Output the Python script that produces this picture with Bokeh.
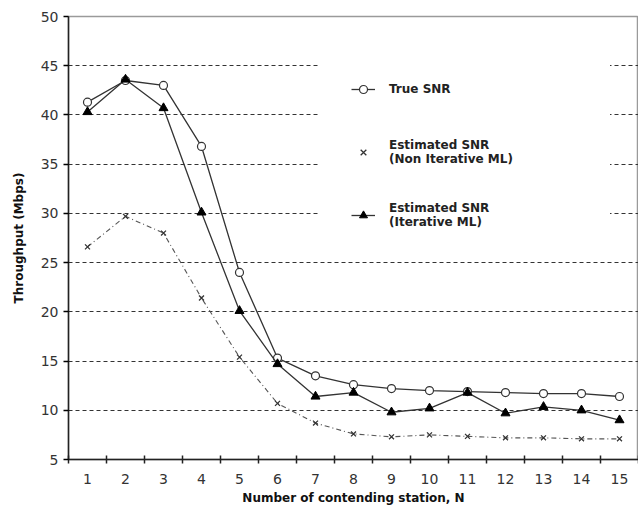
from bokeh.plotting import figure
from bokeh.models import Range1d, FixedTicker, Legend, LegendItem
from bokeh.embed import file_html
from bokeh.resources import INLINE

stations = list(range(1, 16))
true_snr = [41.3, 43.5, 43.0, 36.8, 24.0, 15.3, 13.5, 12.6, 12.2, 12.0, 11.9, 11.8, 11.7, 11.7, 11.4]
est_non_iter = [26.6, 29.7, 28.0, 21.4, 15.4, 10.7, 8.7, 7.6, 7.3, 7.5, 7.35, 7.2, 7.2, 7.1, 7.1]
est_iter = [40.3, 43.6, 40.7, 30.1, 20.1, 14.7, 11.4, 11.8, 9.8, 10.2, 11.8, 9.7, 10.35, 10.0, 9.0]
y_ticks = [5, 10, 15, 20, 25, 30, 35, 40, 45, 50]

FONT = "DejaVu Sans"

p = figure(width=638, height=507, output_backend="svg", toolbar_location=None,
           x_range=Range1d(0.5, 15.5), y_range=Range1d(5, 50),
           min_border_left=68, min_border_right=0, min_border_top=16, min_border_bottom=10)

p.outline_line_color = "#9a9a9a"
p.outline_line_width = 1.5
p.background_fill_color = "white"

# axes
p.xaxis.ticker = FixedTicker(ticks=stations, minor_ticks=[i + 0.5 for i in range(0, 16)])
p.xaxis.major_tick_line_color = None
p.xaxis.minor_tick_in = 4
p.xaxis.minor_tick_out = 4
p.xaxis.minor_tick_line_color = "#222222"
p.xaxis.minor_tick_line_width = 1.5
p.yaxis.ticker = FixedTicker(ticks=y_ticks, minor_ticks=[])
p.yaxis.major_tick_in = 0
p.yaxis.major_tick_out = 5
p.yaxis.major_tick_line_width = 1.5
for ax in (p.xaxis, p.yaxis):
    ax.axis_line_color = "#222222"
    ax.axis_line_width = 1.5
    ax.major_label_text_font = FONT
    ax.major_label_text_font_size = "14px"
    ax.major_label_text_color = "#333333"
    ax.axis_label_text_font = FONT
    ax.axis_label_text_font_size = "12px"
    ax.axis_label_text_font_style = "bold"
    ax.axis_label_text_color = "#111111"
p.xaxis.major_label_standoff = 8
p.xaxis.axis_label = "Number of contending station, N"
p.xaxis.axis_label_standoff = 4
p.yaxis.axis_label = "Throughput (Mbps)"
p.yaxis.axis_label_standoff = 12

p.xgrid.grid_line_color = None
p.ygrid.ticker = FixedTicker(ticks=y_ticks)
p.ygrid.grid_line_color = "#333333"
p.ygrid.grid_line_dash = "4 3"
p.ygrid.grid_line_width = 1.2

# series
l_true = p.line(stations, true_snr, line_color="#333333", line_width=1.3)
s_true = p.scatter(stations, true_snr, marker="circle", size=8, line_color="#333333",
                   fill_color="white", line_width=1.2)

l_non = p.line(stations, est_non_iter, line_color="#555555", line_width=1.1, line_dash="5 3 1 3")
s_non = p.scatter(stations, est_non_iter, marker="x", size=7, line_color="#333333", line_width=1.3)

l_iter = p.line(stations, est_iter, line_color="#333333", line_width=1.3)
s_iter = p.scatter(stations, est_iter, marker="triangle", size=9, line_color="black",
                   fill_color="black")

legend = Legend(items=[
    LegendItem(label="True SNR", renderers=[l_true, s_true]),
    LegendItem(label="Estimated SNR\n(Non Iterative ML)", renderers=[s_non]),
    LegendItem(label="Estimated SNR\n(Iterative ML)", renderers=[l_iter, s_iter]),
], location=(252, 198))
legend.padding = 30
legend.margin = 0
legend.spacing = 33
legend.glyph_width = 24
legend.glyph_height = 20
legend.label_height = 30
legend.label_width = 190
legend.label_standoff = 14
legend.label_text_font = FONT
legend.label_text_font_size = "12px"
legend.label_text_font_style = "bold"
legend.label_text_color = "#222222"
legend.border_line_color = "white"
legend.background_fill_color = "white"
legend.background_fill_alpha = 1.0
p.add_layout(legend)

open("out.html", "w").write(file_html(p, INLINE))
